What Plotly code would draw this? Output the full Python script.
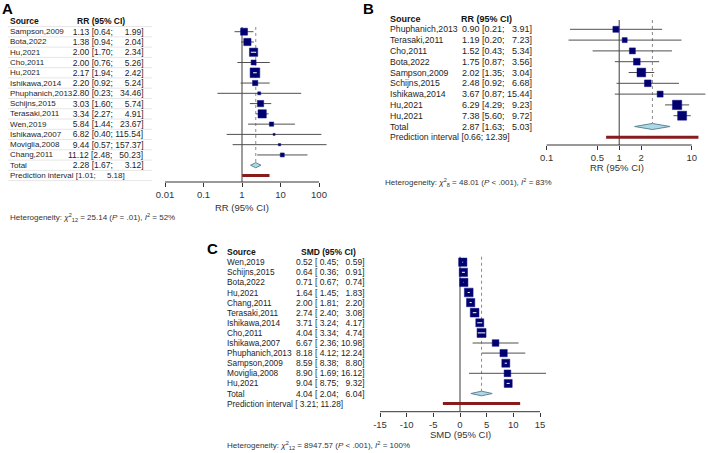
import math
import plotly.graph_objects as go

W, H = 708, 453
FONT = "Liberation Sans, Arial, sans-serif"
NBSP = "\u00a0"
FIGSP = "\u2007"

# ---------------- Panel A data ----------------
a_study = ["Sampson,2009", "Bota,2022", "Hu,2021", "Cho,2011", "Hu,2021", "Ishikawa,2014",
           "Phuphanich,2013", "Schijns,2015", "Terasaki,2011", "Wen,2019", "Ishikawa,2007",
           "Moviglia,2008", "Chang,2011"]
a_est = [1.13, 1.38, 2.00, 2.00, 2.17, 2.20, 2.80, 3.03, 3.34, 5.84, 6.82, 9.44, 11.12]
a_lo = [0.64, 0.94, 1.70, 0.76, 1.94, 0.92, 0.23, 1.60, 2.27, 1.44, 0.40, 0.57, 2.48]
a_hi = [1.99, 2.04, 2.34, 5.26, 2.42, 5.24, 34.46, 5.74, 4.91, 23.67, 115.54, 157.37, 50.23]
a_weight = [7.0, 7.3, 8.3, 5.0, 9.7, 5.3, 3.0, 6.3, 8.3, 4.3, 2.0, 2.3, 4.0]
a_total = [2.28, 1.67, 3.12]
a_pi = [1.01, 5.18]
a_ticks = [0.01, 0.1, 1, 10, 100]
a_ticktext = ["0.01", "0.1", "1", "10", "100"]
a_het = ("Heterogeneity: <i>χ</i><sup>2</sup><sub>12</sub> = 25.14 (<i>P</i> = .01), "
         "<i>I</i><sup>2</sup> = 52%")

# ---------------- Panel B data ----------------
b_study = ["Phuphanich,2013", "Terasaki,2011", "Cho,2011", "Bota,2022", "Sampson,2009",
           "Schijns,2015", "Ishikawa,2014", "Hu,2021", "Hu,2021"]
b_est = [0.90, 1.19, 1.52, 1.75, 2.02, 2.48, 3.67, 6.29, 7.38]
b_lo = [0.21, 0.20, 0.43, 0.87, 1.35, 0.92, 0.87, 4.29, 5.60]
b_hi = [3.91, 7.23, 5.34, 3.56, 3.04, 6.68, 15.44, 9.23, 9.72]
b_weight = [6.0, 5.0, 6.0, 6.7, 8.7, 6.7, 6.0, 9.3, 9.0]
b_total = [2.87, 1.63, 5.03]
b_pi = [0.66, 12.39]
b_ticks = [0.1, 0.5, 1, 2, 10]
b_ticktext = ["0.1", "0.5", "1", "2", "10"]
b_het = ("Heterogeneity: <i>χ</i><sup>2</sup><sub>8</sub> = 48.01 (<i>P</i> < .001), "
         "<i>I</i><sup>2</sup> = 83%")

# ---------------- Panel C data ----------------
c_study = ["Wen,2019", "Schijns,2015", "Bota,2022", "Hu,2021", "Chang,2011", "Terasaki,2011",
           "Ishikawa,2014", "Cho,2011", "Ishikawa,2007", "Phuphanich,2013", "Sampson,2009",
           "Moviglia,2008", "Hu,2021"]
c_est = [0.52, 0.64, 0.71, 1.64, 2.00, 2.74, 3.71, 4.04, 6.67, 8.18, 8.59, 8.90, 9.04]
c_lo = [0.45, 0.36, 0.67, 1.45, 1.81, 2.40, 3.24, 3.34, 2.36, 4.12, 8.38, 1.69, 8.75]
c_hi = [0.59, 0.91, 0.74, 1.83, 2.20, 3.08, 4.17, 4.74, 10.98, 12.24, 8.80, 16.12, 9.32]
c_weight = [8.3, 8.3, 8.3, 8.7, 8.3, 8.7, 8.0, 9.0, 6.7, 7.3, 8.0, 6.7, 8.0]
c_total = [4.04, 2.04, 6.04]
c_pi = [-3.21, 11.28]
c_ticks = [-15, -10, -5, 0, 5, 10, 15]
c_ticktext = ["-15", "-10", "-5", "0", "5", "10", "15"]
c_het = ("Heterogeneity: <i>χ</i><sup>2</sup><sub>12</sub> = 8947.57 (<i>P</i> < .001), "
         "<i>I</i><sup>2</sup> = 100%")

fig = go.Figure()
shapes = []
annotations = []
layout_axes = {}


def fmt_col(vals):
    """Format a column of numbers, padded like the meta forest table."""
    strs = [f"{abs(v):.2f}" for v in vals]
    has_sign = any(v < 0 for v in vals)
    w = max(len(s) for s in strs)
    out = []
    for v, s in zip(vals, strs):
        pad = FIGSP * (w - len(s))
        sign = ("-" if v < 0 else NBSP) if has_sign else ""
        out.append(pad + sign + s)
    return out


def add_panel(n, letter, study, est, lo, hi, weight, total, pi, ticks, ticktext,
              header, axis_title, het, g, hide_minus=False):
    xr = "x" if n == 1 else f"x{n}"
    yr = "y" if n == 1 else f"y{n}"
    xa = "xaxis" if n == 1 else f"xaxis{n}"
    ya = "yaxis" if n == 1 else f"yaxis{n}"
    log = g["log"]

    def tx(v):
        return math.log10(v) if log else v

    def px(v):
        return g["x0"] + g["scale"] * tx(v)

    k = len(study)
    rows = list(range(k))
    ybot = (g["axis_px"] - g["row0"]) / g["dy"]
    ytop = (g["top_px"] - g["row0"]) / g["dy"]
    common = dict(xaxis=xr, yaxis=yr, hoverinfo="skip", showlegend=False)

    null = 1 if log else 0
    fig.add_trace(go.Scatter(x=[null, null], y=[g["null_top"], ybot], mode="lines",
                             line=dict(color="#3a3a3a", width=1), **common))
    fig.add_trace(go.Scatter(x=[total[0], total[0]], y=[g["null_top"], k - g["dh"]],
                             mode="lines", line=dict(color="#8a8a8a", width=1, dash="dot"),
                             **common))
    xs, ys = [], []
    for i in rows:
        xs += [lo[i], hi[i], None]
        ys += [i, i, None]
    fig.add_trace(go.Scatter(x=xs, y=ys, mode="lines",
                             line=dict(color="#505050", width=1), **common))
    fig.add_trace(go.Scatter(x=est, y=rows, mode="markers",
                             marker=dict(symbol="square", size=weight, color="#000070",
                                         opacity=1,
                                         line=dict(color="#101080", width=0.5)), **common))
    xs, ys = [], []
    for i in rows:
        if px(hi[i]) - px(lo[i]) < weight[i]:
            xs += [lo[i], hi[i], None]
            ys += [i, i, None]
    if xs:
        fig.add_trace(go.Scatter(x=xs, y=ys, mode="lines",
                                 line=dict(color="white", width=1), **common))
    t_est, t_lo, t_hi = total
    dh = g["dh"]
    fig.add_trace(go.Scatter(x=[t_lo, t_est, t_hi, t_est, t_lo], y=[k, k - dh, k, k + dh, k],
                             mode="lines", fill="toself", fillcolor="#add8e6",
                             line=dict(color="#5f8797", width=1), **common))
    fig.add_trace(go.Scatter(x=[pi[0], pi[1]], y=[k + 1, k + 1], mode="lines",
                             line=dict(color="#861c1c", width=3), **common))

    x_d0, x_d1 = g["xdom"]
    layout_axes[xa] = dict(
        domain=[x_d0 / W, x_d1 / W],
        range=[(x_d0 - g["x0"]) / g["scale"], (x_d1 - g["x0"]) / g["scale"]],
        type="log" if log else "linear", anchor=yr, showgrid=False, zeroline=False,
        showline=False, ticks="outside", ticklen=4, tickwidth=1, tickcolor="#333",
        tickvals=ticks, ticktext=ticktext, tickfont=dict(family=FONT, size=9.5, color="#333"),
        fixedrange=True)
    layout_axes[ya] = dict(domain=[1 - g["axis_px"] / H, 1 - g["top_px"] / H],
                           range=[ybot, ytop], visible=False, anchor=xr, fixedrange=True)
    shapes.append(dict(type="line", xref=xr, yref=f"{yr} domain", x0=ticks[0], x1=ticks[-1],
                       y0=0, y1=0, line=dict(color="#333", width=1)))

    # table text
    fs = g["fs"]
    tf = dict(family=FONT, size=fs, color="#1e1e1e")
    nf = dict(family=FONT, size=g["name_fs"], color="#1e1e1e")
    hf = dict(family=FONT, size=fs, color="#111")
    annotations.append(dict(text="<b>Source</b>", xref="paper", yref=yr, x=g["name_px"] / W,
                            y=-1, xanchor="left", yanchor="middle", showarrow=False, font=hf))
    annotations.append(dict(text=f"<b>{header}</b>", xref="paper", yref=yr,
                            x=g["head_px"] / W, y=-1, xanchor="left", yanchor="middle",
                            showarrow=False, font=hf))
    es = fmt_col(est + [total[0]])
    ls = fmt_col(lo + [total[1], pi[0]])
    hs = fmt_col(hi + [total[2], pi[1]])
    for i in range(k + 1):
        lab = study[i] if i < k else "Total"
        t = f"{es[i]}{NBSP}[{ls[i]};{NBSP}{hs[i]}]"
        annotations.append(dict(text=lab, xref="paper", yref=yr, x=g["name_px"] / W, y=i,
                                xanchor="left", yanchor="middle", showarrow=False, font=nf))
        annotations.append(dict(text=t, xref="paper", yref=yr,
                                x=g["ci_px"] / W, y=i, xanchor="left", yanchor="middle",
                                showarrow=False, font=tf))
    pil = ls[k + 1]
    if hide_minus:
        pil = pil.replace("-", NBSP)
    pi_text = f"Prediction interval{NBSP}[{pil};{NBSP}{hs[k + 1]}]"
    annotations.append(dict(text=pi_text, xref="paper", yref=yr, x=g["name_px"] / W, y=k + 1,
                            xanchor="left", yanchor="middle", showarrow=False, font=nf))
    if g.get("rules"):
        for i in range(-1, k + 2):
            shapes.append(dict(type="line", xref="paper", yref=yr, x0=g["name_px"] / W,
                               x1=g["rule_end"] / W, y0=i + 0.5, y1=i + 0.5,
                               line=dict(color="#e0e0e0", width=0.8)))
    # axis title, heterogeneity, panel letter
    annotations.append(dict(text=axis_title, xref="paper", yref="paper", x=g["title_px"][0] / W,
                            y=1 - g["title_px"][1] / H, xanchor="center", yanchor="middle",
                            showarrow=False, font=dict(family=FONT, size=9.5, color="#333")))
    annotations.append(dict(text=het, xref="paper", yref="paper", x=g["het_px"][0] / W,
                            y=1 - g["het_px"][1] / H, xanchor="left", yanchor="middle",
                            showarrow=False, font=dict(family=FONT, size=8, color="#333")))
    annotations.append(dict(text=f"<b>{letter}</b>", xref="paper", yref="paper",
                            x=g["letter_px"][0] / W, y=1 - g["letter_px"][1] / H,
                            xanchor="center", yanchor="middle", showarrow=False,
                            font=dict(family=FONT, size=15, color="#000")))


geo_a = dict(log=True, x0=242, scale=38.5, xdom=(150, 345), row0=31.7, dy=10.27, top_px=15,
             axis_px=182, null_top=-0.46, dh=0.25, name_px=8, ci_px=66, head_px=75, fs=8.5,
             name_fs=8, title_px=(242, 207), het_px=(8, 217), letter_px=(7, 9), rules=True,
             rule_end=152)
geo_b = dict(log=True, x0=619.2, scale=72.5, xdom=(535, 708), row0=29.3, dy=10.8, top_px=12,
             axis_px=145, null_top=-0.86, dh=0.28, name_px=388, ci_px=460, head_px=459, fs=9,
             name_fs=8.7, title_px=(617, 167), het_px=(383, 182), letter_px=(368, 9))
geo_c = dict(log=False, x0=460, scale=5.333, xdom=(372, 560), row0=262.2, dy=10.1, top_px=245,
             axis_px=411.7, null_top=-0.54, dh=0.23, name_px=225, ci_px=294, head_px=299,
             fs=8.5, name_fs=8.3, title_px=(460, 434.5), het_px=(225, 445), letter_px=(213, 248))

add_panel(1, "A", a_study, a_est, a_lo, a_hi, a_weight, a_total, a_pi, a_ticks, a_ticktext,
          "RR (95% CI)", "RR (95% CI)", a_het, geo_a)
add_panel(2, "B", b_study, b_est, b_lo, b_hi, b_weight, b_total, b_pi, b_ticks, b_ticktext,
          "RR (95% CI)", "RR (95% CI)", b_het, geo_b)
add_panel(3, "C", c_study, c_est, c_lo, c_hi, c_weight, c_total, c_pi, c_ticks, c_ticktext,
          "SMD (95% CI)", "SMD (95% CI)", c_het, geo_c, hide_minus=True)

fig.update_layout(width=W, height=H, margin=dict(l=0, r=0, t=0, b=0),
                  paper_bgcolor="white", plot_bgcolor="rgba(0,0,0,0)",
                  shapes=shapes, annotations=annotations, showlegend=False,
                  font=dict(family=FONT), **layout_axes)
fig.write_html("out.html", config={"displayModeBar": False},
               post_script="document.body.style.margin='0';document.body.style.overflow='hidden';")
